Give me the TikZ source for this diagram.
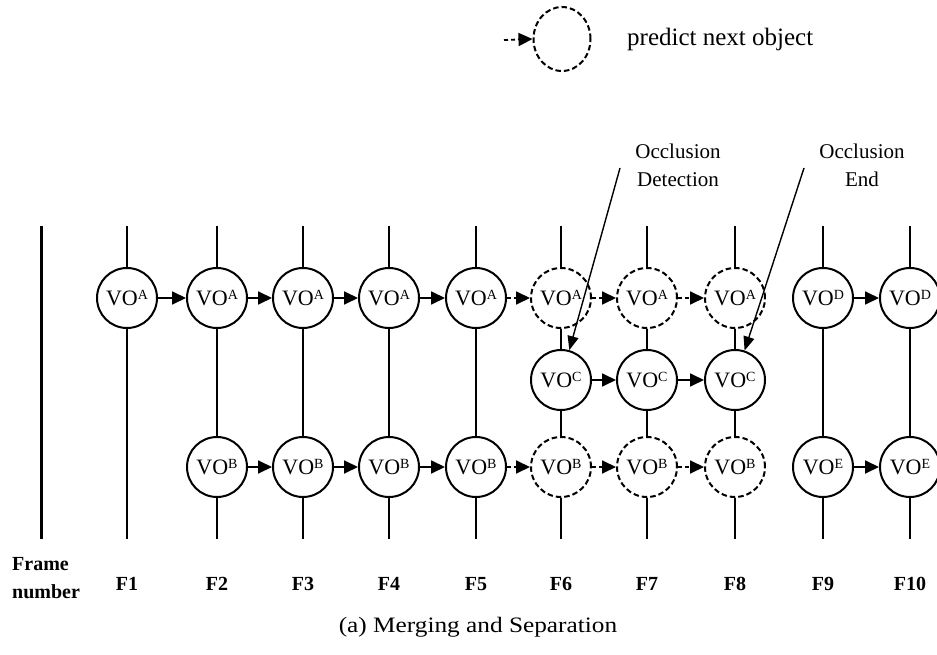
\documentclass[tikz,border=0pt]{standalone}
\usepackage{fontspec}
\setmainfont{Liberation Serif}
\usetikzlibrary{arrows.meta,shapes.geometric}

% object label: VO with a raised small letter
\newcommand\vosup[1]{VO\raisebox{5.3pt}{\fontsize{14}{14}\selectfont #1}}

\begin{document}
\begin{tikzpicture}[x=1pt,y=-1pt,
  obj/.style={circle, draw, line width=2pt, minimum size=60pt, inner sep=0pt,
              font=\fontsize{22}{22}\selectfont},
  pred/.style={obj, dash pattern=on 5.5pt off 3pt},
  legendobj/.style={ellipse, draw, line width=2pt, minimum width=57pt,
              minimum height=64pt, inner sep=0pt, dash pattern=on 5.5pt off 3pt},
  col/.style={line width=1.8pt},
  axisline/.style={line width=2.2pt},
  link/.style={line width=1.8pt, -{Triangle[length=14pt,width=13pt]}},
  plink/.style={link, dash pattern=on 4pt off 3pt},
  note/.style={line width=1.4pt, -{Triangle[length=14pt,width=11pt]}},
  flabel/.style={anchor=base, inner sep=0pt, font=\fontsize{20}{20}\selectfont\bfseries},
  notelabel/.style={anchor=north, align=center, inner sep=0pt,
              font=\fontsize{21}{28}\selectfont}]
\useasboundingbox (0,0) rectangle (937,655);

% legend
\node[legendobj] (leg) at (562,39) {};
\coordinate (legtail) at (504,40);
\draw[plink] (legtail) -- (leg.west);
\node[anchor=base west, inner sep=0pt, font=\fontsize{25}{25}\selectfont] (legtext) at (627,46) {predict next object};

% frame axis
\coordinate (axtop) at (41.5,226);
\coordinate (axbot) at (41.5,539);
\draw[axisline] (axtop) -- (axbot);
\node[anchor=north west, align=left, inner sep=0pt, font=\fontsize{20}{28}\selectfont\bfseries]
  (framelbl) at (12,557) {Frame\\number};

% column ends and frame labels
\foreach \i/\x in {1/127,2/217,3/303,4/389,5/476,6/561,7/647,8/735,9/823,10/910}{
  \coordinate (t\i) at (\x,226);
  \coordinate (b\i) at (\x,539);
  \node[flabel] (f\i) at (\x,590) {F\i};
}

% objects
\node[obj] (A1) at (127,298) {\vosup{A}};
\foreach \i/\x in {2/217,3/303,4/389,5/476}{
  \node[obj] (A\i) at (\x,298) {\vosup{A}};
  \node[obj] (B\i) at (\x,467) {\vosup{B}};
}
\foreach \i/\x in {6/561,7/647,8/735}{
  \node[pred] (A\i) at (\x,298) {\vosup{A}};
  \node[obj]  (C\i) at (\x,380) {\vosup{C}};
  \node[pred] (B\i) at (\x,467) {\vosup{B}};
}
\foreach \i/\x in {9/823,10/910}{
  \node[obj] (D\i) at (\x,298) {\vosup{D}};
  \node[obj] (E\i) at (\x,467) {\vosup{E}};
}

% frame columns
\draw[col] (t1) -- (A1) -- (b1);
\foreach \i in {2,3,4,5}{
  \draw[col] (t\i) -- (A\i) -- (B\i) -- (b\i);
}
\foreach \i in {6,7,8}{
  \draw[col] (t\i) -- (A\i) -- (C\i) -- (B\i) -- (b\i);
}
\foreach \i in {9,10}{
  \draw[col] (t\i) -- (D\i) -- (E\i) -- (b\i);
}

% tracking links
\foreach \a/\b in {1/2,2/3,3/4,4/5}{ \draw[link] (A\a) -- (A\b); }
\foreach \a/\b in {5/6,6/7,7/8}{ \draw[plink] (A\a) -- (A\b); }
\foreach \a/\b in {2/3,3/4,4/5}{ \draw[link] (B\a) -- (B\b); }
\foreach \a/\b in {5/6,6/7,7/8}{ \draw[plink] (B\a) -- (B\b); }
\foreach \a/\b in {6/7,7/8}{ \draw[link] (C\a) -- (C\b); }
\draw[link] (D9) -- (D10);
\draw[link] (E9) -- (E10);

% occlusion notes
\node[notelabel] (detlbl) at (678,144) {Occlusion\\Detection};
\node[notelabel] (endlbl) at (862,144) {Occlusion\\End};
\coordinate (detfrom) at (620,168);
\coordinate (endfrom) at (804,168);
\draw[note] (detfrom) -- (C6);
\draw[note] (endfrom) -- (C8);

% caption
\node[anchor=base, inner sep=0pt, font=\fontsize{22}{22}\selectfont] (caption) at (478,632)
  {\scalebox{1.15}[1]{(a) Merging and Separation}};
\end{tikzpicture}
\end{document}
